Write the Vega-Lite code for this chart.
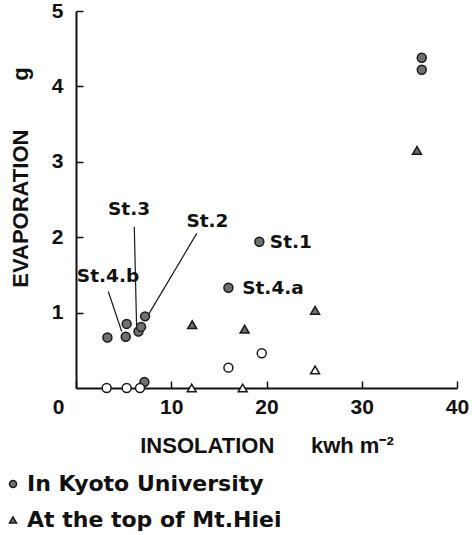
{
  "$schema": "https://vega.github.io/schema/vega-lite/v6.json",
  "width": 381,
  "height": 377,
  "autosize": {"type": "none"},
  "padding": {"left": 76, "top": 11, "right": 15, "bottom": 147},
  "background": "white",
  "config": {"view": {"stroke": null}, "font": "DejaVu Sans"},
  "datasets": {
    "points": [
      {"x": 3.3, "y": 0.67, "site": "In Kyoto University", "kind": "filled"},
      {"x": 5.22, "y": 0.68, "site": "In Kyoto University", "kind": "filled"},
      {"x": 5.32, "y": 0.85, "site": "In Kyoto University", "kind": "filled"},
      {"x": 6.56, "y": 0.75, "site": "In Kyoto University", "kind": "filled"},
      {"x": 6.83, "y": 0.81, "site": "In Kyoto University", "kind": "filled"},
      {"x": 7.25, "y": 0.95, "site": "In Kyoto University", "kind": "filled"},
      {"x": 19.25, "y": 1.94, "site": "In Kyoto University", "kind": "filled"},
      {"x": 16.0, "y": 1.33, "site": "In Kyoto University", "kind": "filled"},
      {"x": 36.3, "y": 4.38, "site": "In Kyoto University", "kind": "filled"},
      {"x": 36.3, "y": 4.22, "site": "In Kyoto University", "kind": "filled"},
      {"x": 7.18, "y": 0.08, "site": "In Kyoto University", "kind": "filled"},
      {"x": 3.22, "y": 0, "site": "In Kyoto University", "kind": "open"},
      {"x": 5.32, "y": 0, "site": "In Kyoto University", "kind": "open"},
      {"x": 6.72, "y": 0, "site": "In Kyoto University", "kind": "open"},
      {"x": 16.0, "y": 0.27, "site": "In Kyoto University", "kind": "open"},
      {"x": 19.5, "y": 0.46, "site": "In Kyoto University", "kind": "open"},
      {"x": 12.2, "y": 0.84, "site": "At the top of Mt.Hiei", "kind": "filled"},
      {"x": 17.7, "y": 0.78, "site": "At the top of Mt.Hiei", "kind": "filled"},
      {"x": 25.1, "y": 1.03, "site": "At the top of Mt.Hiei", "kind": "filled"},
      {"x": 35.8, "y": 3.15, "site": "At the top of Mt.Hiei", "kind": "filled"},
      {"x": 12.15, "y": 0, "site": "At the top of Mt.Hiei", "kind": "open"},
      {"x": 17.5, "y": 0, "site": "At the top of Mt.Hiei", "kind": "open"},
      {"x": 25.1, "y": 0.24, "site": "At the top of Mt.Hiei", "kind": "open"}
    ],
    "labels": [
      {"x": 22.56, "y": 1.94, "text": "St.1"},
      {"x": 20.68, "y": 1.32, "text": "St.4.a"},
      {"x": 13.8, "y": 2.22, "text": "St.2"},
      {"x": 5.57, "y": 2.38, "text": "St.3"},
      {"x": 3.36, "y": 1.48, "text": "St.4.b"}
    ],
    "leaders": [
      {"x": 6.12, "y": 2.14, "x2": 6.36, "y2": 0.83},
      {"x": 12.68, "y": 2.05, "x2": 7.59, "y2": 0.97},
      {"x": 3.39, "y": 1.28, "x2": 4.8, "y2": 0.75}
    ]
  },
  "encoding": {
    "x": {
      "field": "x",
      "type": "quantitative",
      "scale": {"domain": [0, 40], "nice": false, "zero": false},
      "axis": {
        "values": [0, 10, 20, 30, 40],
        "title": "INSOLATION\u00a0\u00a0\u00a0\u00a0\u00a0\u00a0kwh m\u207b\u00b2",
        "grid": false,
        "domainColor": "#111",
        "domainWidth": 2,
        "tickColor": "#111",
        "tickWidth": 1.5,
        "tickSize": -7,
        "labelFont": "Liberation Sans",
        "labelFontWeight": "bold",
        "labelFontSize": 21,
        "labelColor": "#111",
        "labelPadding": 15,
        "labelFlush": false,
        "labelOffset": {"condition": {"test": "datum.value === 0", "value": -18}, "value": 0},
        "titleFont": "Liberation Sans",
        "titleFontWeight": "bold",
        "titleFontSize": 22,
        "titleColor": "#111",
        "titleY": 57,
        "titleBaseline": "middle"
      }
    },
    "y": {
      "field": "y",
      "type": "quantitative",
      "scale": {"domain": [0, 5], "nice": false},
      "axis": {
        "values": [1, 2, 3, 4, 5],
        "title": "EVAPORATION\u00a0\u00a0\u00a0\u00a0\u00a0\u00a0\u00a0\u00a0g",
        "grid": false,
        "domainColor": "#111",
        "domainWidth": 2,
        "tickColor": "#111",
        "tickWidth": 1.5,
        "tickSize": -7,
        "labelFont": "Liberation Sans",
        "labelFontWeight": "bold",
        "labelFontSize": 21,
        "labelColor": "#111",
        "labelPadding": 20,
        "labelFlush": false,
        "titleFont": "Liberation Sans",
        "titleFontWeight": "bold",
        "titleFontSize": 22,
        "titleColor": "#111",
        "titleX": -56,
        "titleY": 166,
        "titleAlign": "center",
        "titleBaseline": "middle"
      }
    }
  },
  "layer": [
    {
      "data": {"name": "leaders"},
      "mark": {"type": "rule", "stroke": "#1a1a1a", "strokeWidth": 1.2},
      "encoding": {"x2": {"field": "x2"}, "y2": {"field": "y2"}}
    },
    {
      "data": {"name": "points"},
      "mark": {"type": "point", "filled": true, "size": 80, "stroke": "#1a1a1a", "strokeWidth": 1.5, "opacity": 1},
      "encoding": {
        "shape": {
          "field": "site",
          "type": "nominal",
          "scale": {"domain": ["In Kyoto University", "At the top of Mt.Hiei"], "range": ["circle", "triangle-up"]},
          "legend": {
            "title": null,
            "orient": "none",
            "legendX": -74,
            "legendY": 462,
            "padding": 0,
            "labelFont": "DejaVu Sans",
            "labelFontWeight": "bold",
            "labelFontSize": 22,
            "labelColor": "#111",
            "labelOffset": 3,
            "labelLimit": 400,
            "symbolSize": 50,
            "symbolFillColor": "#6f6f6f",
            "symbolStrokeColor": "#1a1a1a",
            "symbolStrokeWidth": 1.5,
            "rowPadding": 14
          }
        },
        "fill": {
          "field": "kind",
          "type": "nominal",
          "scale": {"domain": ["filled", "open"], "range": ["#6f6f6f", "#ffffff"]},
          "legend": null
        }
      }
    },
    {
      "data": {"name": "labels"},
      "mark": {"type": "text", "font": "DejaVu Sans", "fontWeight": "bold", "fontSize": 18.5, "align": "center", "baseline": "middle", "color": "#111"},
      "encoding": {"text": {"field": "text"}}
    }
  ]
}
